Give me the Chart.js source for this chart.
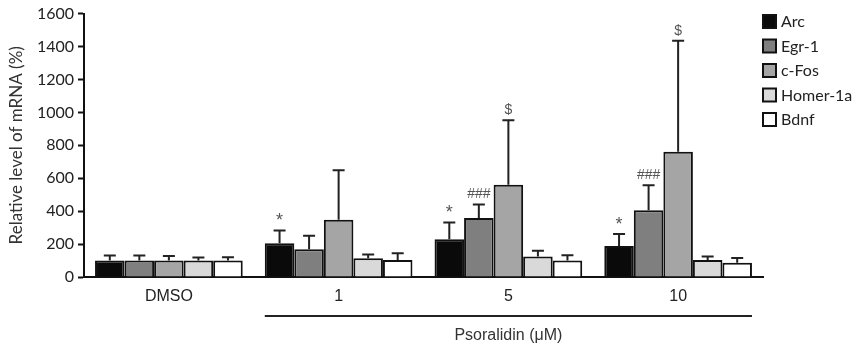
<!DOCTYPE html>
<html>
<head>
<meta charset="utf-8">
<script src="https://cdn.jsdelivr.net/npm/chart.js@4.4.0/dist/chart.umd.min.js"></script>
<style>
    html, body { margin: 0; padding: 0; background: #fff; }
    #wrap { width: 859px; height: 347px; }
</style>
</head>
<body>
<div id="wrap"><canvas id="mrna-chart"></canvas></div>
<script>

// Data
const categories = ['DMSO', '1', '5', '10'];
const seriesNames = ['Arc', 'Egr-1', 'c-Fos', 'Homer-1a', 'Bdnf'];

const arcValues = [100, 205, 230, 189];
const egrValues = [100, 169, 358, 405];
const fosValues = [100, 348, 560, 761];
const homerValues = [100, 114, 124, 104];
const bdnfValues = [100, 104, 100, 87];

// upper error (SD) for each bar
const arcErr = [30, 78, 101, 72];
const egrErr = [30, 81, 83, 152];
const fosErr = [28, 301, 392, 674];
const homerErr = [18, 22, 36, 20];
const bdnfErr = [20, 41, 32, 29];

// significance marks
const arcMarks = ['', '*', '*', '*'];
const egrMarks = ['', '', '###', '###'];
const fosMarks = ['', '', '$', '$'];
const noMarks = ['', '', '', ''];

const yTicks = [0, 200, 400, 600, 800, 1000, 1200, 1400, 1600];

const barColors = ['#0a0a0a', '#7f7f7f', '#a5a5a5', '#d9d9d9', '#ffffff'];

const allValues = [arcValues, egrValues, fosValues, homerValues, bdnfValues];
const allErr = [arcErr, egrErr, fosErr, homerErr, bdnfErr];
const allMarks = [arcMarks, egrMarks, fosMarks, noMarks, noMarks];

const datasets = seriesNames.map((name, i) => ({
    label: name,
    data: allValues[i],
    errors: allErr[i],
    marks: allMarks[i],
    backgroundColor: barColors[i],
    borderColor: '#111',
    borderWidth: 2,
    barPercentage: 1,
    categoryPercentage: 0.87
}));

// error bars + significance marks
const errorBars = {
    id: 'errorBars',
    afterDatasetsDraw(chart) {
        const ctx = chart.ctx;
        const y = chart.scales.y;
        ctx.save();
        chart.data.datasets.forEach((ds, i) => {
            const meta = chart.getDatasetMeta(i);
            meta.data.forEach((bar, j) => {
                const top = y.getPixelForValue(ds.data[j] + ds.errors[j]);
                ctx.strokeStyle = '#222';
                ctx.lineWidth = 2;
                ctx.beginPath();
                ctx.moveTo(bar.x, bar.y);
                ctx.lineTo(bar.x, top);
                ctx.moveTo(bar.x - 6, top);
                ctx.lineTo(bar.x + 6, top);
                ctx.stroke();
                const mark = ds.marks[j];
                if (mark) {
                    ctx.fillStyle = '#555';
                    ctx.textAlign = 'center';
                    ctx.textBaseline = 'bottom';
                    ctx.font = mark === '*' ? '18px "Liberation Sans", Arial' : '14px "Liberation Sans", Arial';
                    ctx.fillText(mark, bar.x, top - (mark === '*' ? 0 : 3));
                }
            });
        });
        ctx.restore();
    }
};

// legend on the right and the Psoralidin bracket
const extras = {
    id: 'extras',
    afterDraw(chart) {
        const ctx = chart.ctx;
        const area = chart.chartArea;
        ctx.save();

        // legend
        ctx.font = '16px Lato, "Open Sans", sans-serif';
        ctx.textBaseline = 'middle';
        ctx.textAlign = 'left';
        chart.data.datasets.forEach((ds, i) => {
            const bx = area.right + 0;
            const by = 15 + i * 24.5;
            ctx.fillStyle = ds.backgroundColor;
            ctx.fillRect(bx, by, 13, 13);
            ctx.strokeStyle = '#111';
            ctx.lineWidth = 2;
            ctx.strokeRect(bx, by, 13, 13);
            ctx.fillStyle = '#222';
            ctx.fillText(ds.label, bx + 18, by + 7);
        });

        // bracket under the psoralidin doses
        const first = chart.getDatasetMeta(0).data[1];
        const last = chart.getDatasetMeta(4).data[3];
        const x1 = first.x - first.width / 2;
        const x2 = last.x + last.width / 2;
        const ly = area.bottom + 39;
        ctx.strokeStyle = '#222';
        ctx.lineWidth = 2;
        ctx.beginPath();
        ctx.moveTo(x1, ly);
        ctx.lineTo(x2, ly);
        ctx.stroke();
        ctx.fillStyle = '#333';
        ctx.textAlign = 'center';
        ctx.font = '16px "Liberation Sans", Arial';
        ctx.fillText('Psoralidin (\u03bcM)', (x1 + x2) / 2, area.bottom + 59);

        ctx.restore();
    }
};

const chart = new Chart(document.getElementById('mrna-chart'), {
    type: 'bar',
    data: { labels: categories, datasets: datasets },
    options: {
        responsive: true,
        maintainAspectRatio: false,
        animation: false,
        layout: { padding: { top: 12, right: 96, left: 0, bottom: 0 } },
        plugins: {
            legend: { display: false },
            tooltip: { enabled: false }
        },
        scales: {
            x: {
                grid: { display: false, drawTicks: false },
                border: { display: true, color: '#111', width: 2 },
                ticks: {
                    color: '#222',
                    padding: 10,
                    font: { family: '"Liberation Sans", Arial', size: 16 }
                },
                afterFit(scale) { scale.height = 70; }
            },
            y: {
                min: 0,
                max: 1600,
                afterBuildTicks(scale) {
                    scale.ticks = yTicks.map(v => ({ value: v }));
                },
                grid: {
                    drawOnChartArea: false,
                    drawTicks: true,
                    tickLength: 6,
                    tickWidth: 2,
                    tickColor: '#111'
                },
                border: { display: true, color: '#111', width: 2 },
                ticks: {
                    color: '#222',
                    padding: 4,
                    callback: v => String(v),
                    font: { family: 'Lato, "Open Sans", sans-serif', size: 16 }
                },
                title: {
                    display: true,
                    text: 'Relative level of mRNA (%)',
                    color: '#333',
                    padding: { top: 6, bottom: 2 },
                    font: { family: 'Lato, "Open Sans", sans-serif', size: 17 }
                },
                afterFit(scale) { scale.width = 84; }
            }
        }
    },
    plugins: [errorBars, extras]
});

</script>
</body>
</html>
